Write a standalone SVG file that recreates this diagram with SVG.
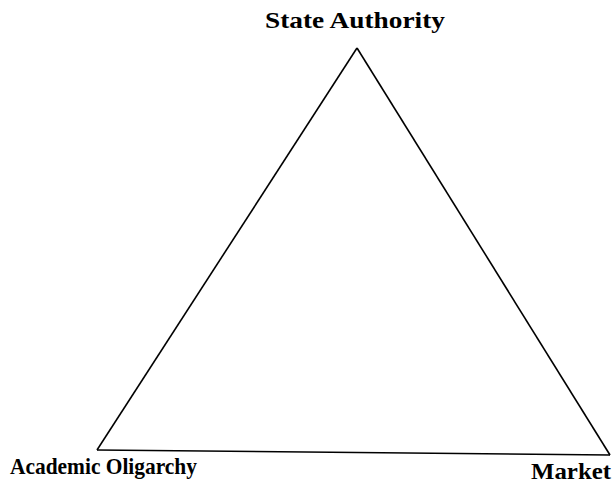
<svg xmlns="http://www.w3.org/2000/svg" width="615" height="484" viewBox="0 0 615 484">
<style>
.lbl{font-family:"Liberation Serif","Times New Roman",serif;font-weight:bold;font-size:23px;fill:#000}
.edge{stroke:#000;stroke-width:1.6;fill:none}
</style>
<rect width="615" height="484" fill="#fff"/>
<g id="connectors">
<line class="edge" x1="357" y1="48" x2="97" y2="450"/>
<line class="edge" x1="357" y1="48" x2="610" y2="455"/>
<line class="edge" x1="97" y1="450" x2="610" y2="455"/>
</g>
<g id="state"><text class="lbl" x="265" y="28" textLength="180" lengthAdjust="spacingAndGlyphs">State Authority</text></g>
<g id="academic"><text class="lbl" x="10" y="474" textLength="187" lengthAdjust="spacingAndGlyphs">Academic Oligarchy</text></g>
<g id="market"><text class="lbl" x="531" y="479" textLength="80" lengthAdjust="spacingAndGlyphs">Market</text></g>
</svg>
